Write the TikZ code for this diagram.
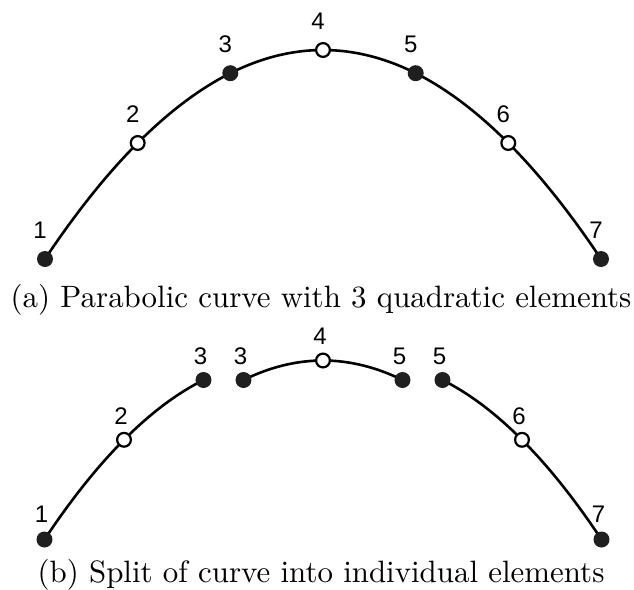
\documentclass[tikz,border=0pt]{standalone}
\usepackage{graphicx}
\usepackage{fontspec}
\newfontfamily\labelfont{Liberation Sans}
\usetikzlibrary{calc}
\begin{document}
\begin{tikzpicture}[x=0.5pt,y=-0.5pt,
  curveline/.style={line width=1.3pt},
  solidpt/.style={circle,fill=black!88,inner sep=0pt,minimum size=8pt},
  openpt/.style={circle,draw=black,fill=white,line width=1.1pt,inner sep=0pt,minimum size=6.9pt},
  numlabel/.style={font=\labelfont\fontsize{12}{14}\selectfont,inner sep=0pt},
  captext/.style={font=\fontsize{10}{12}\selectfont,anchor=base,inner sep=0pt}]
\useasboundingbox (0,0) rectangle (634,590);
% ---- top curve points
\coordinate (a1) at (45,259);
\coordinate (a2) at (137.7,143);
\coordinate (a3) at (230.3,73.2);
\coordinate (a4) at (323,50);
\coordinate (a5) at (415.7,73.2);
\coordinate (a6) at (508.3,143);
\coordinate (a7) at (601,259);
% ---- bottom split points
\coordinate (b1) at (44.5,539.5);
\coordinate (b2) at (124,439.8);
\coordinate (b3) at (203.5,380);
\coordinate (c3) at (243.5,380);
\coordinate (b4) at (323,360.5);
\coordinate (c5) at (402.5,380);
\coordinate (d5) at (442.5,380);
\coordinate (b6) at (522,439.8);
\coordinate (b7) at (601.5,539.5);
% ---- quadratic control points
\coordinate (ka1) at ($2*(a2) - 0.5*(a1) - 0.5*(a3)$);
\coordinate (ka2) at ($2*(a4) - 0.5*(a3) - 0.5*(a5)$);
\coordinate (ka3) at ($2*(a6) - 0.5*(a5) - 0.5*(a7)$);
\coordinate (kb1) at ($2*(b2) - 0.5*(b1) - 0.5*(b3)$);
\coordinate (kb2) at ($2*(b4) - 0.5*(c3) - 0.5*(c5)$);
\coordinate (kb3) at ($2*(b6) - 0.5*(d5) - 0.5*(b7)$);
% ---- curves
\draw[curveline] (a1) .. controls ($(a1)!2/3!(ka1)$) and ($(a3)!2/3!(ka1)$) .. (a3);
\draw[curveline] (a3) .. controls ($(a3)!2/3!(ka2)$) and ($(a5)!2/3!(ka2)$) .. (a5);
\draw[curveline] (a5) .. controls ($(a5)!2/3!(ka3)$) and ($(a7)!2/3!(ka3)$) .. (a7);
\draw[curveline] (b1) .. controls ($(b1)!2/3!(kb1)$) and ($(b3)!2/3!(kb1)$) .. (b3);
\draw[curveline] (c3) .. controls ($(c3)!2/3!(kb2)$) and ($(c5)!2/3!(kb2)$) .. (c5);
\draw[curveline] (d5) .. controls ($(d5)!2/3!(kb3)$) and ($(b7)!2/3!(kb3)$) .. (b7);
% ---- markers top
\node[solidpt] (na1) at (a1) {};
\node[openpt]  (na2) at (a2) {};
\node[solidpt] (na3) at (a3) {};
\node[openpt]  (na4) at (a4) {};
\node[solidpt] (na5) at (a5) {};
\node[openpt]  (na6) at (a6) {};
\node[solidpt] (na7) at (a7) {};
% ---- markers bottom
\node[solidpt] (nb1) at (b1) {};
\node[openpt]  (nb2) at (b2) {};
\node[solidpt] (nb3) at (b3) {};
\node[solidpt] (nc3) at (c3) {};
\node[openpt]  (nb4) at (b4) {};
\node[solidpt] (nc5) at (c5) {};
\node[solidpt] (nd5) at (d5) {};
\node[openpt]  (nb6) at (b6) {};
\node[solidpt] (nb7) at (b7) {};
% ---- labels top
\node[numlabel] (la1) at ($(a1)+(-5,-29)$) {1};
\node[numlabel] (la2) at ($(a2)+(-5,-28.5)$) {2};
\node[numlabel] (la3) at ($(a3)+(-5,-28.5)$) {3};
\node[numlabel] (la4) at ($(a4)+(-5,-28.5)$) {4};
\node[numlabel] (la5) at ($(a5)+(-5,-28.5)$) {5};
\node[numlabel] (la6) at ($(a6)+(-5,-28.5)$) {6};
\node[numlabel] (la7) at ($(a7)+(-5,-29)$) {7};
% ---- labels bottom
\node[numlabel] (lb1) at ($(b1)+(-3,-25)$) {1};
\node[numlabel] (lb2) at ($(b2)+(-3,-24)$) {2};
\node[numlabel] (lb3) at ($(b3)+(-3,-24)$) {3};
\node[numlabel] (lc3) at ($(c3)+(-3,-24)$) {3};
\node[numlabel] (lb4) at ($(b4)+(-3,-24)$) {4};
\node[numlabel] (lc5) at ($(c5)+(-3,-24)$) {5};
\node[numlabel] (ld5) at ($(d5)+(-3,-24)$) {5};
\node[numlabel] (lb6) at ($(b6)+(-3,-24)$) {6};
\node[numlabel] (lb7) at ($(b7)+(-3,-25)$) {7};
% ---- captions
\node[captext] (capa) at (321,307.5) {\scalebox{1.545}{(a) Parabolic curve with 3 quadratic elements}};
\node[captext] (capb) at (321,582.5) {\scalebox{1.545}{(b) Split of curve into individual elements}};
\end{tikzpicture}
\end{document}
